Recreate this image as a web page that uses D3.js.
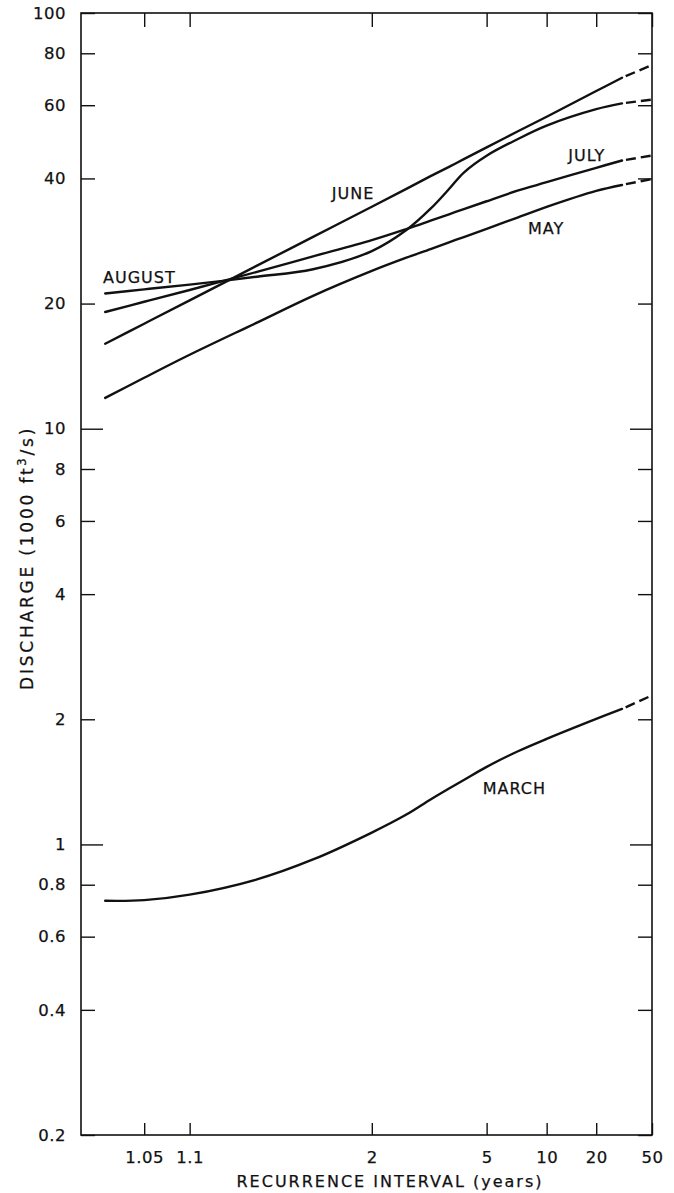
<!DOCTYPE html>
<html><head><meta charset="utf-8">
<script src="https://cdn.jsdelivr.net/npm/d3@7"></script>
<style>body{margin:0;background:#fff}</style>
</head><body>
<svg id="chart" width="674" height="1193"></svg>
<script>
// ---- data ----
const recurrence = [1.026, 1.05, 1.1, 1.25, 1.5, 2, 2.5, 3, 3.5, 4, 5, 7, 10, 20, 30, 50];
const august = [21.15, 21.64, 22.21, 23.21, 24.19, 26.74, 30.05, 33.82, 37.72, 41.33, 45.37, 49.7, 53.6, 58.7, 60.6, 61.9];
const july   = [19.09, 20.2, 21.56, 23.84, 25.97, 28.42, 30.22, 31.65, 32.8, 33.75, 35.25, 37.37, 39.17, 42.43, 44.17, 45.4];
const june   = [16.01, 17.89, 20.36, 24.67, 28.94, 34.2, 37.76, 40.5, 42.66, 44.5, 47.5, 51.86, 56.3, 64.9, 69.86, 75.0];
const may    = [11.86, 13.26, 15.06, 18.0, 20.88, 23.97, 25.79, 27.05, 28.08, 28.91, 30.25, 32.21, 34.16, 37.32, 38.58, 39.86];
const march  = [0.732, 0.7345, 0.757, 0.824, 0.920, 1.068, 1.180, 1.283, 1.363, 1.429, 1.537, 1.673, 1.794, 2.004, 2.118, 2.283];
const seriesNames = ["AUGUST", "JULY", "JUNE", "MAY", "MARCH"];
const extrapolatedFrom = 30;              // curves are dashed beyond this recurrence interval
const xTickValues = [1.05, 1.1, 2, 5, 10, 20, 50];
const xTickLabels = ["1.05", "1.1", "2", "5", "10", "20", "50"];
const yTickValues = [0.2, 0.4, 0.6, 0.8, 1, 2, 4, 6, 8, 10, 20, 40, 60, 80, 100];
const yTickLabels = ["0.2", "0.4", "0.6", "0.8", "1", "2", "4", "6", "8", "10", "20", "40", "60", "80", "100"];
const labelT = [1.025, 13.35, 1.625, 7.93, 4.805];   // where each curve's name sits
const labelV = [22.47, 44.06, 35.7, 29.33, 1.322];
const xDomainT = [1.0168, 50];
const yDomain = [0.2, 100];

// ---- helpers ----
function probit(p){
  const a=[-3.969683028665376e+01,2.209460984245205e+02,-2.759285104469687e+02,1.383577518672690e+02,-3.066479806614716e+01,2.506628277459239e+00];
  const b=[-5.447609879822406e+01,1.615858368580409e+02,-1.556989798598866e+02,6.680131188771972e+01,-1.328068155288572e+01];
  const c=[-7.784894002430293e-03,-3.223964580411365e-01,-2.400758277161838e+00,-2.549732539343734e+00,4.374664141464968e+00,2.938163982698783e+00];
  const d=[7.784695709041462e-03,3.224671290700398e-01,2.445134137142996e+00,3.754408661907416e+00];
  const pl=0.02425, ph=1-pl; let q,r;
  if(p<pl){q=Math.sqrt(-2*Math.log(p));return (((((c[0]*q+c[1])*q+c[2])*q+c[3])*q+c[4])*q+c[5])/((((d[0]*q+d[1])*q+d[2])*q+d[3])*q+1);}
  if(p<=ph){q=p-0.5;r=q*q;return (((((a[0]*r+a[1])*r+a[2])*r+a[3])*r+a[4])*r+a[5])*q/(((((b[0]*r+b[1])*r+b[2])*r+b[3])*r+b[4])*r+1);}
  q=Math.sqrt(-2*Math.log(1-p));return -(((((c[0]*q+c[1])*q+c[2])*q+c[3])*q+c[4])*q+c[5])/((((d[0]*q+d[1])*q+d[2])*q+d[3])*q+1);
}

const plot = {left: 81, right: 652, top: 13, bottom: 1135};
const ink = "#111";
const font = "'DejaVu Sans', sans-serif";

// normal-probability scale for recurrence interval
const zOf = T => probit(1 - 1 / T);
const zLin = d3.scaleLinear().domain(xDomainT.map(zOf)).range([plot.left, plot.right]);
const x = T => zLin(zOf(T));
x.domain = () => xDomainT.slice();
x.range = () => zLin.range();
x.copy = () => x;

const y = d3.scaleLog().domain(yDomain).range([plot.bottom, plot.top]);

const svg = d3.select("#chart");
svg.append("rect").attr("width", 674).attr("height", 1193).attr("fill", "#fff");

// ---- axes ----
function styleAxis(g){
  g.attr("color", ink).attr("font-family", font).attr("font-size", 16.5);
  g.select(".domain").remove();
  g.selectAll(".tick line").attr("stroke-width", 1.4);
  g.selectAll(".tick text").attr("letter-spacing", "0.5px")
    .attr("stroke", ink).attr("stroke-width", 0.25);
}
const isDecade = v => v === 1 || v === 10;

svg.append("g").attr("transform", `translate(0,${plot.bottom})`)
  .call(d3.axisBottom(x).tickValues(xTickValues).tickFormat((d, i) => xTickLabels[i])
    .tickSizeInner(-12).tickSizeOuter(0).tickPadding(16))
  .call(styleAxis);

svg.append("g").attr("transform", `translate(0,${plot.top})`)
  .call(d3.axisTop(x).tickValues(xTickValues).tickFormat("")
    .tickSizeInner(-14).tickSizeOuter(0))
  .call(styleAxis);

svg.append("g").attr("transform", `translate(${plot.left},0)`)
  .call(d3.axisLeft(y).tickValues(yTickValues).tickFormat((d, i) => yTickLabels[i])
    .tickSizeInner(-14).tickSizeOuter(0).tickPadding(15))
  .call(styleAxis)
  .call(g => g.selectAll(".tick line").attr("x2", d => isDecade(d) ? 22 : 14));

svg.append("g").attr("transform", `translate(${plot.right},0)`)
  .call(d3.axisRight(y).tickValues(yTickValues).tickFormat("")
    .tickSizeInner(-14).tickSizeOuter(0))
  .call(styleAxis)
  .call(g => g.selectAll(".tick line").attr("x2", d => isDecade(d) ? -22 : -14));

// frame
svg.append("rect")
  .attr("x", plot.left).attr("y", plot.top)
  .attr("width", plot.right - plot.left).attr("height", plot.bottom - plot.top)
  .attr("fill", "none").attr("stroke", ink).attr("stroke-width", 1.6);

// ---- curves ----
const allSeries = [august, july, june, may, march];
const line = d3.line().x(d => x(d.T)).y(d => y(d.v)).curve(d3.curveCatmullRom.alpha(0.5));

allSeries.forEach((vals, i) => {
  const pts = recurrence.map((T, j) => ({T, v: vals[j]}));
  svg.append("path").datum(pts.filter(d => d.T <= extrapolatedFrom))
    .attr("d", line).attr("fill", "none").attr("stroke", ink)
    .attr("stroke-width", 2.4).attr("stroke-linecap", "round");
  svg.append("path").datum(pts.filter(d => d.T >= extrapolatedFrom))
    .attr("d", line).attr("fill", "none").attr("stroke", ink)
    .attr("stroke-width", 2.4).attr("stroke-dasharray", "10,5").attr("stroke-dashoffset", 11);
  svg.append("text")
    .attr("x", x(labelT[i])).attr("y", y(labelV[i]))
    .attr("font-family", font).attr("font-size", 16).attr("letter-spacing", "1px")
    .attr("fill", ink).attr("stroke", ink).attr("stroke-width", 0.25)
    .text(seriesNames[i]);
});

// ---- axis titles ----
svg.append("text")
  .attr("x", 390).attr("y", 1187).attr("text-anchor", "middle")
  .attr("font-family", font).attr("font-size", 16).attr("letter-spacing", "2px")
  .attr("fill", ink).attr("stroke", ink).attr("stroke-width", 0.25)
  .text("RECURRENCE INTERVAL (years)");

const yt = svg.append("text")
  .attr("transform", `translate(33,690) rotate(-90)`)
  .attr("text-anchor", "start")
  .attr("font-family", font).attr("font-size", 17).attr("letter-spacing", "2.8px")
  .attr("fill", ink).attr("stroke", ink).attr("stroke-width", 0.25);
yt.append("tspan").text("DISCHARGE (1000 ft");
yt.append("tspan").attr("dy", -7).attr("font-size", 11.5).text("3");
yt.append("tspan").attr("dy", 7).text("/s)");
</script>
</body></html>
